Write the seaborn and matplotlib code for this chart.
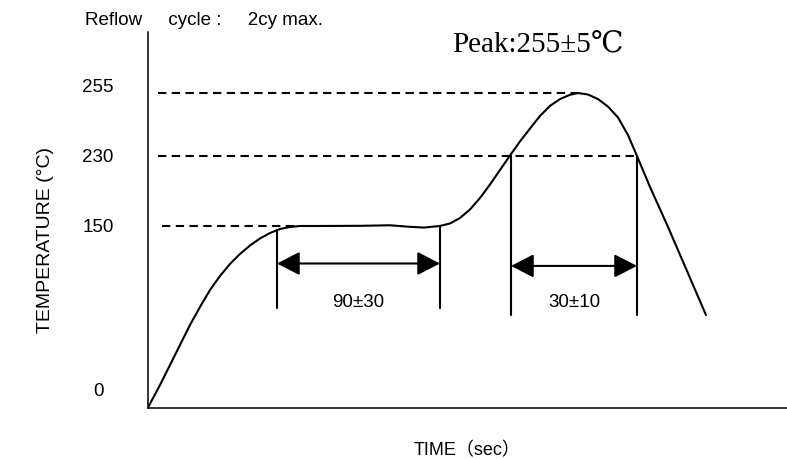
import numpy as np
import pandas as pd
import matplotlib
matplotlib.use("Agg")
import matplotlib.pyplot as plt
from matplotlib import transforms
from matplotlib.ticker import NullLocator
import seaborn as sns

# reflow profile (schematic time units)
time_s = [0, 6, 11, 16, 21, 26, 31, 36, 41, 46, 51, 56, 61, 66, 71, 76,
          86, 106, 121, 131, 138, 146,
          151, 156, 161, 166, 171, 176, 181, 186, 191, 196, 201, 206, 211, 215,
          220, 225, 230, 235, 240, 244.5, 251, 259.8, 279]
temp_c = [0, 18.6, 35.1, 51.7, 68.2, 83.1, 97.1, 108.7, 118.6, 126.9, 133.9, 139.7,
          144.2, 147.5, 149.2, 150,
          150, 150.2, 150.8, 149.3, 148.7, 150,
          152.9, 159.1, 168.9, 182.0, 197.4, 214.0, 230.2, 235.8, 240.9, 245.9, 249.9,
          252.6, 254.3, 255,
          254.4, 252.6, 249.6, 245.3, 238.3, 230, 194.6, 150, 76.4]

# guide levels and the time spans they run over
level_temps = [255, 230, 150]
level_starts = [5, 5, 7]
level_ends = [215, 244.5, 74]

span_labels = ["90±30", "30±10"]
span_starts = [64.5, 181.5]
span_ends = [146, 244.5]
span_tops_left = [146.7, 230]
span_tops_right = [150, 230]
span_bottom = [82.5, 76.4]
span_arrow_temp = [119, 117]
span_text_temp = [87, 86.5]

temp_ticks = [0, 150, 230, 255]
temp_tick_labels = ["0", "150", "230", "255"]

# the temperature axis is not linear in the drawing -> piecewise scale
scale_temps = [0, 150, 230, 255, 280]
scale_fracs = [0, 0.4834, 0.6698, 0.8375, 1.0]


def fwd(v):
  return np.interp(v, scale_temps, scale_fracs)


def inv(v):
  return np.interp(v, scale_fracs, scale_temps)


sns.set_style("white")
plt.rcParams["font.family"] = ["Liberation Sans", "Noto Sans CJK JP", "DejaVu Sans"]

fig, ax = plt.subplots(figsize=(7.87, 4.59), dpi=100)
fig.subplots_adjust(left=148 / 787, right=1.0, bottom=(459 - 407.5) / 459, top=(459 - 32) / 459)

ax.set_yscale("function", functions=(fwd, inv))
ax.set_xlim(0, 319.5)
ax.set_ylim(0, 280)

df = pd.DataFrame({"time": time_s, "temp": temp_c})
sns.lineplot(data=df, x="time", y="temp", sort=False, estimator=None,
             color="black", lw=1.5, ax=ax)

# dashed guide levels
for y, x0, x1 in zip(level_temps, level_starts, level_ends):
  ax.plot([x0, x1], [y, y], color="black", lw=1.5, linestyle=(0, (4, 2.6)))

# dimension lines with double arrows
for lab, x0, x1, t0, t1, yb, ya, yt in zip(span_labels, span_starts, span_ends,
                                           span_tops_left, span_tops_right,
                                           span_bottom, span_arrow_temp, span_text_temp):
  ax.plot([x0, x0], [yb, t0], color="black", lw=1.5)
  ax.plot([x1, x1], [yb, t1], color="black", lw=1.5)
  ax.annotate("", xy=(x1, ya), xytext=(x0, ya),
              arrowprops=dict(arrowstyle="<|-|>,head_length=0.7,head_width=0.36",
                              mutation_scale=20, lw=1.5, color="black",
                              shrinkA=0, shrinkB=0))
  ax.text((x0 + x1) / 2, yt, lab, ha="center", va="center", fontsize=13.5, color="black")

ax.text(195, 274.5, "Peak:255±5℃", ha="center", va="center", fontsize=21,
        family=["Liberation Serif", "DejaVu Serif"], color="black")

fig.text(85 / 787, 1 - 20.5 / 459, "Reflow     cycle :     2cy max.", ha="left", va="center",
         fontsize=13.5, color="black")

# axes look
sns.despine(ax=ax, top=True, right=True)
for side in ["left", "bottom"]:
  ax.spines[side].set_color("black")
  ax.spines[side].set_linewidth(1.1)
ax.set_xticks([])
ax.yaxis.set_minor_locator(NullLocator())
ax.set_yticks(temp_ticks, labels=temp_tick_labels)
ax.tick_params(axis="y", length=0, pad=36, labelsize=13.5, labelcolor="black")

ax.set_ylabel("TEMPERATURE (°C)", fontsize=14, color="black")
ax.yaxis.set_label_coords(-0.147, 0.446)
ax.set_xlabel("TIME（sec）", fontsize=13, color="black", va="top")
ax.xaxis.set_label_coords(0.5, -0.093)

# labels sit a bit above their levels in the drawing
label_lift = {"0": 17.5, "255": 8}
for lbl in ax.get_yticklabels():
  lbl.set_horizontalalignment("center")
  dy = label_lift.get(lbl.get_text(), 0) / 100
  lbl.set_transform(lbl.get_transform() + transforms.ScaledTranslation(0, dy, fig.dpi_scale_trans))

fig.savefig("out.png", dpi=100)
